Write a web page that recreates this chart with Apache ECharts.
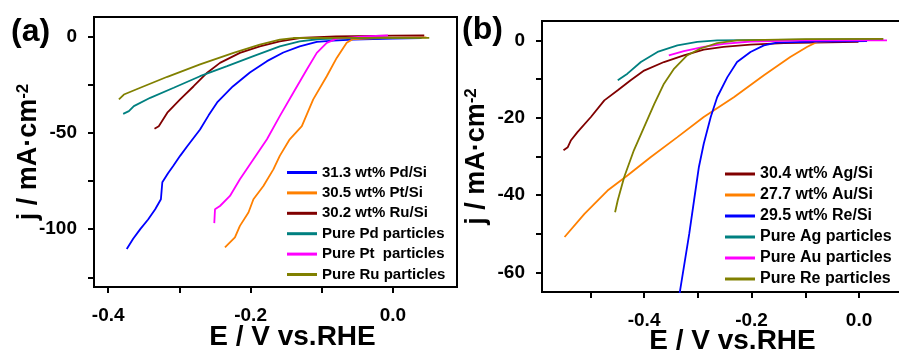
<!DOCTYPE html>
<html lang="en">
<head>
    <meta charset="UTF-8">
    <title>HER polarization curves</title>
    <script src="https://cdn.jsdelivr.net/npm/echarts@6/dist/echarts.min.js"></script>
    <style>
        html, body { margin: 0; padding: 0; background: #fff; }
    </style>
</head>
<body>
<div id="main" style="width: 899px;height:354px;"></div>

<script type="text/javascript">
    // panel (a): [E (V vs RHE), j (mA/cm2)]
    const namesA = ['31.3 wt% Pd/Si', '30.5 wt% Pt/Si', '30.2 wt% Ru/Si', 'Pure Pd particles', 'Pure Pt  particles', 'Pure Ru particles']
    const colorsA = ['#0000ff', '#ff8000', '#800000', '#008080', '#ff00ff', '#808000']
    const pdSi = [[-0.374, -110.3], [-0.365, -105], [-0.355, -100], [-0.344, -95], [-0.334, -89.7], [-0.326, -84.5], [-0.325, -80], [-0.324, -75.7], [-0.316, -71], [-0.309, -67.4], [-0.299, -62], [-0.289, -57], [-0.271, -48.3], [-0.259, -41], [-0.247, -34.3], [-0.225, -26], [-0.201, -18.8], [-0.177, -12.9], [-0.154, -8.4], [-0.131, -5.2], [-0.107, -2.9], [-0.084, -2.2], [-0.056, -1.7], [0.0, -1.2], [0.04, -1.0]]
    const ptSi = [[-0.236, -109.5], [-0.222, -104.3], [-0.215, -98.3], [-0.203, -91.4], [-0.196, -84.5], [-0.182, -77.6], [-0.168, -69], [-0.159, -62], [-0.145, -53.4], [-0.128, -46.6], [-0.112, -32.7], [-0.093, -20.7], [-0.079, -11.2], [-0.065, -3.4], [-0.056, -1.4], [-0.02, -0.9], [0.047, -0.6]]
    const ruSi = [[-0.335, -47.9], [-0.329, -46.6], [-0.317, -39.6], [-0.299, -32.7], [-0.280, -25.9], [-0.261, -18.9], [-0.243, -13.8], [-0.215, -8.6], [-0.187, -5.2], [-0.159, -2.6], [-0.131, -0.9], [-0.08, 0.0], [0.0, 0.3], [0.044, 0.4]]
    const pdPure = [[-0.379, -40.2], [-0.371, -38.8], [-0.364, -36.2], [-0.341, -31.9], [-0.308, -26.7], [-0.271, -20.7], [-0.233, -15.5], [-0.196, -10.3], [-0.159, -5.2], [-0.131, -2.6], [-0.103, -1.4], [-0.05, -1.0], [0.04, -0.8]]
    const ptPure = [[-0.251, -96.9], [-0.250, -89.7], [-0.243, -88], [-0.229, -82.8], [-0.215, -74.1], [-0.196, -63.8], [-0.177, -53.4], [-0.159, -41.4], [-0.140, -29.3], [-0.121, -17.2], [-0.107, -8.6], [-0.093, -3.4], [-0.079, -1.2], [-0.04, 0.0], [-0.007, 0.5]]
    const ruPure = [[-0.385, -32.7], [-0.378, -30.2], [-0.355, -26.7], [-0.317, -21], [-0.271, -14.6], [-0.224, -8.6], [-0.187, -4.3], [-0.159, -1.7], [-0.140, -0.9], [-0.05, -0.8], [0.051, -0.8]]

    // panel (b)
    const namesB = ['30.4 wt% Ag/Si', '27.7 wt% Au/Si', '29.5 wt% Re/Si', 'Pure Ag particles', 'Pure Au particles', 'Pure Re particles']
    const colorsB = ['#800000', '#ff8000', '#0000ff', '#008080', '#ff00ff', '#808000']
    const agSi = [[-0.550, -28.4], [-0.542, -27.6], [-0.536, -25.8], [-0.524, -23.7], [-0.499, -19.8], [-0.474, -15.5], [-0.449, -12.9], [-0.425, -10.3], [-0.400, -7.8], [-0.363, -5.6], [-0.326, -3.9], [-0.289, -2.4], [-0.252, -1.7], [-0.202, -1.1], [-0.140, -0.7], [-0.001, -0.4]]
    const auSi = [[-0.548, -50.8], [-0.511, -44.8], [-0.468, -38.8], [-0.431, -34.9], [-0.388, -30.2], [-0.338, -25], [-0.289, -19.8], [-0.233, -14.7], [-0.177, -9], [-0.128, -4.3], [-0.097, -1.7], [-0.078, -0.4], [0.0, 0.1], [0.045, 0.2]]
    const reSi = [[-0.339, -70], [-0.333, -64.6], [-0.326, -58.6], [-0.316, -50], [-0.307, -41.3], [-0.298, -32.7], [-0.289, -26.7], [-0.276, -19.8], [-0.264, -14.7], [-0.245, -9.5], [-0.227, -5.6], [-0.202, -3], [-0.177, -1.3], [-0.153, -0.6], [-0.08, -0.3], [0.015, -0.2]]
    const agPure = [[-0.449, -10.3], [-0.431, -8.6], [-0.406, -5.6], [-0.375, -3], [-0.338, -1.3], [-0.301, -0.4], [-0.264, 0.0], [-0.1, 0.2], [0.045, 0.3]]
    const auPure = [[-0.354, -3.9], [-0.326, -2.8], [-0.289, -1.7], [-0.252, -0.9], [-0.202, -0.3], [-0.1, 0.0], [0.052, 0.0]]
    const rePure = [[-0.454, -44.4], [-0.449, -41.3], [-0.437, -35.3], [-0.419, -28.4], [-0.400, -22.4], [-0.381, -16.4], [-0.363, -11.2], [-0.344, -7.3], [-0.320, -3.9], [-0.295, -2.1], [-0.264, -0.7], [-0.227, 0.0], [-0.1, 0.3], [0.045, 0.4]]

    const xTicksA = [-0.4, -0.3, -0.2, -0.1, 0.0]
    const xLabelsA = [-0.4, -0.2, 0.0]
    const yTicksA = [0, -25, -50, -75, -100, -125]
    const yLabelsA = [0, -50, -100]
    const xTicksB = [-0.5, -0.4, -0.3, -0.2, -0.1, 0.0]
    const xLabelsB = [-0.4, -0.2, 0.0]
    const yTicksB = [0, -10, -20, -30, -40, -50, -60]
    const yLabelsB = [0, -20, -40, -60]
</script>

<script type="text/javascript">
    const FONT = 'Arial, "Liberation Sans", sans-serif'
    const chart = echarts.init(document.getElementById('main'))

    function xAxisOf(idx, min, max, ticks, labels) {
        return {
            type: 'value', gridIndex: idx, min: min, max: max,
            name: 'E / V vs.RHE', nameLocation: 'middle', nameGap: idx === 0 ? 36 : 35, nameMoveOverlap: false,
            nameTextStyle: {fontFamily: FONT, fontSize: 28, fontWeight: 'bold', color: '#000',
                padding: idx === 0 ? [0, 0, 0, 34] : [0, 0, 0, 14]},
            axisLine: {show: true, onZero: false, lineStyle: {color: '#000', width: 2}},
            axisTick: {show: true, inside: false, length: 6, lineStyle: {width: 2}, customValues: ticks},
            axisLabel: {customValues: labels, margin: 19, fontFamily: FONT, fontSize: 19, fontWeight: 'bold', color: '#000',
                formatter: v => v.toFixed(1)},
            splitLine: {show: false}
        }
    }

    function yAxisOf(idx, min, max, ticks, labels) {
        return {
            type: 'value', gridIndex: idx, min: min, max: max,
            name: '{n|j / mA·cm}{s|-2}', nameLocation: 'middle', nameGap: 52, nameRotate: 90, nameMoveOverlap: false,
            nameTextStyle: {
                rich: {
                    n: {fontFamily: FONT, fontSize: 27, fontWeight: 'bold', color: '#000'},
                    s: {fontFamily: FONT, fontSize: 17, fontWeight: 'bold', color: '#000', verticalAlign: 'top'}
                }
            },
            axisLine: {show: true, onZero: false, lineStyle: {color: '#000', width: 2}},
            axisTick: {show: true, inside: false, length: 6, lineStyle: {width: 2}, customValues: ticks},
            axisLabel: {customValues: labels, margin: 17, fontFamily: FONT, fontSize: 19, fontWeight: 'bold', color: '#000',
                formatter: v => String(v)},
            splitLine: {show: false}
        }
    }

    function lineOf(name, data, color, idx) {
        return {
            name: name, type: 'line', xAxisIndex: idx, yAxisIndex: idx,
            data: data, symbol: 'none', smooth: false, clip: true,
            lineStyle: {color: color, width: 1.8}, itemStyle: {color: color}
        }
    }

    function legendOf(names, left, top, size, gap) {
        return {
            data: names, orient: 'vertical', left: left, top: top, padding: 0,
            itemWidth: 30, itemHeight: 3, itemGap: gap, icon: 'rect',
            textStyle: {fontFamily: FONT, fontSize: size, fontWeight: 'bold', color: '#000', lineHeight: 14}
        }
    }

    const seriesA = [pdSi, ptSi, ruSi, pdPure, ptPure, ruPure]
    const seriesB = [agSi, auSi, reSi, agPure, auPure, rePure]

    const option = {
        animation: false,
        backgroundColor: '#fff',
        grid: [
            {left: 94, top: 17, width: 363, height: 270, show: true, borderColor: '#000', borderWidth: 2, outerBoundsMode: 'none'},
            {left: 542, top: 21, width: 367, height: 271, show: true, borderColor: '#000', borderWidth: 2, outerBoundsMode: 'none'}
        ],
        xAxis: [
            xAxisOf(0, -0.42, 0.09, xTicksA, xLabelsA),
            xAxisOf(1, -0.59, 0.093, xTicksB, xLabelsB)
        ],
        yAxis: [
            yAxisOf(0, -130, 10, yTicksA, yLabelsA),
            yAxisOf(1, -65, 5, yTicksB, yLabelsB)
        ],
        legend: [
            legendOf(namesA, 287, 165, 15, 5.4),
            legendOf(namesB, 725, 166, 16, 5)
        ],
        graphic: [
            {type: 'text', left: 11, top: 16, style: {text: '(a)', fontFamily: FONT, fontSize: 32, fontWeight: 'bold', fill: '#000'}},
            {type: 'text', left: 462, top: 14, style: {text: '(b)', fontFamily: FONT, fontSize: 32, fontWeight: 'bold', fill: '#000'}}
        ],
        series: seriesA.map((d, i) => lineOf(namesA[i], d, colorsA[i], 0))
            .concat(seriesB.map((d, i) => lineOf(namesB[i], d, colorsB[i], 1)))
    }

    chart.setOption(option)
</script>
</body>
</html>
